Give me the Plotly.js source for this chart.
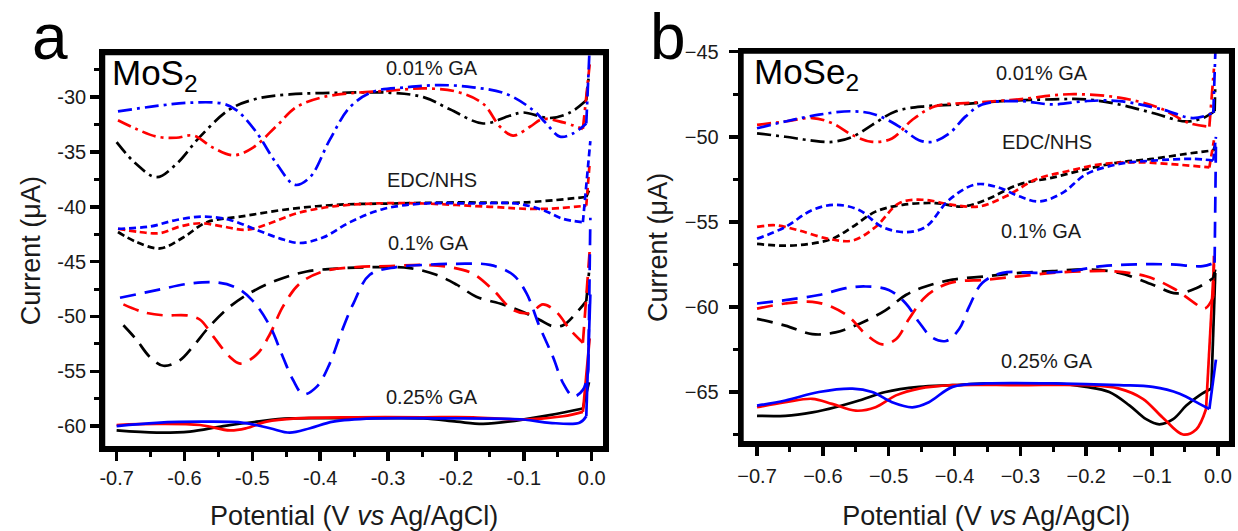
<!DOCTYPE html>
<html><head><meta charset="utf-8">
<script src="https://cdn.plot.ly/plotly-3.0.1.min.js"></script>
<style>html,body{margin:0;padding:0;background:#fff}</style>
</head><body><div id="chart" style="width:1238px;height:531px"></div>
<script>
// ---------------- Panel a (MoS2) ----------------
// 0.01% GA (dash-dot)
const A001K_X = [-0.700,-0.671,-0.641,-0.612,-0.577,-0.533,-0.494,-0.445,-0.371,-0.297,-0.248,-0.209,-0.160,-0.121,-0.101,-0.062,-0.032,-0.008];
const A001K_Y = [-34.1,-36.1,-37.3,-36.1,-33.6,-31.1,-30.15,-29.75,-29.6,-29.6,-30.0,-31.1,-32.4,-31.7,-31.4,-31.9,-31.4,-30.3];
const A001R_X = [-0.698,-0.671,-0.641,-0.612,-0.587,-0.558,-0.528,-0.499,-0.464,-0.435,-0.396,-0.347,-0.297,-0.248,-0.199,-0.160,-0.135,-0.116,-0.091,-0.072,-0.042,-0.013];
const A001R_Y = [-32.1,-32.9,-33.6,-33.7,-33.5,-34.6,-35.3,-34.6,-32.6,-30.9,-30.0,-29.6,-29.4,-29.2,-29.5,-30.6,-32.7,-33.5,-32.7,-32.0,-32.3,-32.9];
const A001B_X = [-0.698,-0.641,-0.592,-0.543,-0.523,-0.494,-0.464,-0.437,-0.415,-0.386,-0.356,-0.322,-0.273,-0.224,-0.175,-0.126,-0.086,-0.067,-0.047,-0.027,-0.008];
const A001B_Y = [-31.3,-30.8,-30.5,-30.6,-31.2,-33.2,-36.1,-38.0,-37.3,-33.9,-30.9,-29.5,-29.1,-28.9,-29.1,-29.7,-31.2,-32.4,-33.6,-33.3,-32.4];
// EDC/NHS (short dash)
const AEK_X = [-0.698,-0.671,-0.636,-0.602,-0.567,-0.518,-0.445,-0.371,-0.297,-0.199,-0.101,-0.008];
const AEK_Y = [-42.3,-43.2,-43.8,-42.8,-41.4,-40.9,-40.2,-39.8,-39.7,-39.6,-39.6,-39.1];
const AER_X = [-0.698,-0.666,-0.636,-0.607,-0.577,-0.543,-0.509,-0.474,-0.435,-0.386,-0.322,-0.248,-0.150,-0.077,-0.008];
const AER_Y = [-42.0,-42.3,-42.4,-41.8,-41.5,-41.8,-42.1,-41.5,-40.6,-40.0,-39.7,-39.7,-40.0,-40.2,-39.9];
const AEB_X = [-0.698,-0.651,-0.612,-0.572,-0.533,-0.494,-0.459,-0.430,-0.396,-0.356,-0.307,-0.248,-0.175,-0.111,-0.072,-0.042,-0.013];
const AEB_Y = [-42.0,-41.8,-41.2,-40.9,-41.2,-42.1,-42.9,-43.3,-42.8,-41.4,-40.2,-39.7,-39.7,-39.7,-40.3,-41.1,-41.4];
// 0.1% GA (long dash)
const A1K_X = [-0.690,-0.671,-0.651,-0.631,-0.607,-0.587,-0.563,-0.533,-0.499,-0.464,-0.420,-0.366,-0.317,-0.268,-0.229,-0.199,-0.170,-0.131,-0.101,-0.077,-0.057,-0.042,-0.023,-0.008];
const A1K_Y = [-50.8,-52.1,-53.7,-54.5,-54.0,-52.7,-50.9,-49.1,-47.7,-46.7,-45.9,-45.6,-45.5,-45.6,-46.2,-47.1,-48.2,-48.9,-49.6,-50.3,-50.9,-50.8,-49.7,-48.6];
const A1R_X = [-0.690,-0.661,-0.631,-0.597,-0.577,-0.558,-0.533,-0.518,-0.494,-0.474,-0.455,-0.430,-0.396,-0.347,-0.297,-0.248,-0.209,-0.175,-0.145,-0.116,-0.091,-0.072,-0.052,-0.032,-0.013];
const A1R_Y = [-48.9,-49.6,-49.9,-49.9,-50.3,-51.8,-53.7,-54.3,-53.5,-51.6,-49.1,-47.0,-45.9,-45.5,-45.4,-45.3,-45.5,-46.1,-47.6,-49.4,-49.7,-48.9,-49.6,-51.2,-52.4];
const A1B_X = [-0.695,-0.641,-0.592,-0.553,-0.523,-0.499,-0.474,-0.455,-0.440,-0.425,-0.405,-0.386,-0.371,-0.351,-0.327,-0.288,-0.248,-0.199,-0.150,-0.116,-0.096,-0.077,-0.057,-0.042,-0.027,-0.013,-0.005];
const A1B_Y = [-48.3,-47.6,-47.0,-46.9,-47.4,-48.6,-50.9,-53.7,-55.8,-57.1,-56.4,-54.3,-51.8,-48.8,-46.2,-45.5,-45.3,-45.2,-45.3,-46.2,-47.9,-50.9,-53.7,-56.1,-57.3,-56.7,-54.9];
// 0.25% GA (solid)
const A25K_X = [-0.700,-0.641,-0.592,-0.543,-0.494,-0.445,-0.347,-0.248,-0.199,-0.160,-0.111,-0.062,-0.013];
const A25K_Y = [-60.4,-60.6,-60.5,-60.0,-59.6,-59.3,-59.3,-59.3,-59.6,-59.8,-59.5,-59.0,-58.4];
const A25R_X = [-0.700,-0.641,-0.577,-0.533,-0.509,-0.479,-0.435,-0.347,-0.248,-0.175,-0.101,-0.042,-0.013];
const A25R_Y = [-59.9,-59.8,-59.9,-60.4,-60.2,-59.6,-59.3,-59.2,-59.2,-59.2,-59.4,-59.1,-58.7];
const A25B_X = [-0.700,-0.641,-0.567,-0.513,-0.474,-0.445,-0.415,-0.381,-0.322,-0.224,-0.101,-0.062,-0.018,-0.008];
const A25B_Y = [-60.0,-59.7,-59.6,-59.7,-60.2,-60.6,-60.2,-59.6,-59.3,-59.3,-59.4,-59.7,-59.7,-59.1];
// vertical excursions near 0 V (black, red, blue)
const A_SPIKE_X = [-0.004,-0.003,-0.002];
const A001_SPIKE_Y = [-27.9,-27.0,-24.0];
const AE_SPIKE_Y = [-38.5,-36.0,-34.0];
const A1_SPIKE_Y = [-46.0,-44.0,-41.0];
const A25_SPIKE_Y = [-56.0,-52.0,-48.0];

// ---------------- Panel b (MoSe2) ----------------
const B001K_X = [-0.700,-0.657,-0.621,-0.586,-0.555,-0.525,-0.489,-0.444,-0.393,-0.327,-0.251,-0.200,-0.150,-0.099,-0.048,-0.023,-0.005];
const B001K_Y = [-49.8,-50.0,-50.2,-50.3,-50.0,-49.3,-48.5,-48.2,-48.1,-47.9,-47.8,-47.8,-48.1,-48.6,-49.1,-48.9,-48.5];
const B001R_X = [-0.700,-0.657,-0.616,-0.586,-0.555,-0.525,-0.495,-0.464,-0.429,-0.373,-0.302,-0.226,-0.150,-0.089,-0.043,-0.013];
const B001R_Y = [-49.3,-49.1,-48.9,-49.2,-49.9,-50.3,-50.1,-49.0,-48.2,-48.0,-47.8,-47.5,-47.7,-48.3,-49.2,-49.4];
const B001B_X = [-0.700,-0.657,-0.606,-0.555,-0.520,-0.484,-0.454,-0.434,-0.408,-0.383,-0.358,-0.302,-0.251,-0.200,-0.150,-0.084,-0.038,-0.007];
const B001B_Y = [-49.5,-49.1,-48.7,-48.5,-48.7,-49.4,-50.2,-50.3,-49.8,-48.8,-48.1,-47.9,-48.1,-47.9,-47.9,-48.4,-48.9,-48.6];
const BEK_X = [-0.700,-0.657,-0.621,-0.586,-0.555,-0.520,-0.479,-0.429,-0.388,-0.352,-0.302,-0.251,-0.200,-0.150,-0.099,-0.048,-0.007];
const BEK_Y = [-56.3,-56.4,-56.3,-56.0,-55.3,-54.4,-54.0,-53.9,-54.1,-53.7,-52.8,-52.4,-51.9,-51.5,-51.3,-51.0,-50.8];
const BER_X = [-0.700,-0.672,-0.637,-0.591,-0.555,-0.520,-0.484,-0.449,-0.403,-0.363,-0.322,-0.276,-0.226,-0.175,-0.124,-0.073,-0.013];
const BER_Y = [-55.3,-55.2,-55.5,-56.0,-56.1,-55.3,-53.9,-53.7,-54.0,-54.1,-53.5,-52.5,-52.0,-51.6,-51.5,-51.6,-51.8];
const BEB_X = [-0.700,-0.657,-0.616,-0.581,-0.545,-0.510,-0.474,-0.444,-0.408,-0.368,-0.332,-0.302,-0.271,-0.236,-0.200,-0.150,-0.099,-0.038,-0.007];
const BEB_Y = [-56.0,-55.3,-54.3,-54.0,-54.3,-55.3,-55.6,-55.3,-53.7,-52.8,-53.0,-53.5,-53.8,-53.3,-52.2,-51.6,-51.4,-51.3,-51.4];
const B1K_X = [-0.700,-0.657,-0.616,-0.581,-0.545,-0.505,-0.474,-0.444,-0.403,-0.352,-0.302,-0.251,-0.200,-0.150,-0.099,-0.063,-0.033,-0.007];
const B1K_Y = [-60.7,-61.1,-61.6,-61.5,-61.0,-60.2,-59.3,-58.8,-58.4,-58.2,-58.0,-57.9,-57.8,-58.0,-58.7,-59.2,-58.9,-58.3];
const B1R_X = [-0.700,-0.657,-0.616,-0.586,-0.560,-0.535,-0.510,-0.489,-0.469,-0.444,-0.408,-0.352,-0.302,-0.251,-0.200,-0.160,-0.109,-0.068,-0.038,-0.020,-0.007];
const B1R_Y = [-60.1,-59.8,-59.7,-60.0,-60.6,-61.6,-62.2,-61.9,-60.7,-59.4,-58.6,-58.4,-58.2,-58.0,-57.9,-57.9,-58.2,-58.9,-59.7,-60.1,-59.4];
const B1B_X = [-0.700,-0.657,-0.606,-0.565,-0.535,-0.500,-0.474,-0.454,-0.434,-0.413,-0.393,-0.378,-0.358,-0.327,-0.276,-0.226,-0.175,-0.124,-0.073,-0.023,-0.005];
const B1B_Y = [-59.8,-59.6,-59.3,-58.9,-58.8,-59.0,-59.8,-60.9,-61.8,-62.0,-61.3,-60.0,-58.6,-58.0,-58.0,-57.9,-57.6,-57.5,-57.5,-57.6,-57.4];
const B25K_X = [-0.700,-0.657,-0.616,-0.581,-0.545,-0.505,-0.454,-0.403,-0.352,-0.302,-0.251,-0.200,-0.165,-0.134,-0.109,-0.089,-0.068,-0.048,-0.028,-0.010];
const B25K_Y = [-66.4,-66.4,-66.2,-65.9,-65.5,-65.0,-64.7,-64.6,-64.5,-64.5,-64.5,-64.7,-65.0,-65.8,-66.6,-66.9,-66.6,-65.8,-65.2,-64.8];
const B25R_X = [-0.700,-0.657,-0.616,-0.586,-0.550,-0.520,-0.489,-0.454,-0.403,-0.302,-0.200,-0.150,-0.114,-0.084,-0.053,-0.033,-0.018];
const B25R_Y = [-65.9,-65.6,-65.4,-65.7,-66.1,-65.9,-65.2,-64.8,-64.6,-64.6,-64.6,-64.8,-65.4,-66.5,-67.5,-67.2,-66.0];
const B25B_X = [-0.700,-0.657,-0.606,-0.555,-0.525,-0.495,-0.464,-0.439,-0.403,-0.352,-0.251,-0.150,-0.099,-0.058,-0.028,-0.013];
const B25B_Y = [-65.8,-65.5,-65.0,-64.8,-65.0,-65.6,-65.9,-65.6,-64.7,-64.5,-64.5,-64.6,-64.7,-65.1,-65.7,-66.0];
const B_SPIKE_X = [-0.004,-0.006,-0.003];
const B001_SPIKE_Y = [-47.0,-46.0,-44.0];
const BE_SPIKE_Y = [-50.5,-50.2,-50.0];
const B1_SPIKE_Y = [-57.8,-57.0,-50.5];
const B25_SPIKE_Y = [-58.0,-57.5,-63.1];

// tick labels / text
const A_XTICKS = [-0.7,-0.6,-0.5,-0.4,-0.3,-0.2,-0.1,0.0];
const A_XTEXT = ['-0.7','-0.6','-0.5','-0.4','-0.3','-0.2','-0.1','0.0'];
const A_YTICKS = [-60,-55,-50,-45,-40,-35,-30];
const A_YTEXT = ['-60','-55','-50','-45','-40','-35','-30'];
const GROUP_LABELS = ['0.01% GA','EDC/NHS','0.1% GA','0.25% GA'];
const A_LABEL_X = [-0.236,-0.235,-0.240,-0.235];
const A_LABEL_Y = [-27.3,-37.6,-43.3,-57.35];
const B_LABEL_X = [-0.267,-0.259,-0.268,-0.260];
const B_LABEL_Y = [-46.25,-50.3,-55.55,-63.2];

// ---------------- build ----------------
const FONT = '"Liberation Sans", Arial, sans-serif';
const COL = ['#000000','#ff0000','#0000ff'];
const DASH = ['14px,5px,3px,5px','7px,4px','16px,9px','solid'];
const LW = 2.7;
const traces = [];
function add(xs, ys, spikeY, spikeX, group, xa, ya){
  for (let i=0;i<3;i++){
    const x = xs[i], y = ys[i];
    traces.push({type:'scatter',mode:'lines',x:x,y:y,xaxis:xa,yaxis:ya,
      line:{color:COL[i],width:LW,dash:DASH[group],shape:'spline',smoothing:1},
      hoverinfo:'skip',showlegend:false});
    traces.push({type:'scatter',mode:'lines',x:[x[x.length-1],spikeX[i]],y:[y[y.length-1],spikeY[i]],
      xaxis:xa,yaxis:ya,line:{color:COL[i],width:LW,dash:DASH[group]},hoverinfo:'skip',showlegend:false});
  }
}
add([A25K_X,A25R_X,A25B_X],[A25K_Y,A25R_Y,A25B_Y],A25_SPIKE_Y,A_SPIKE_X,3,'x','y');
add([A1K_X,A1R_X,A1B_X],[A1K_Y,A1R_Y,A1B_Y],A1_SPIKE_Y,A_SPIKE_X,2,'x','y');
add([AEK_X,AER_X,AEB_X],[AEK_Y,AER_Y,AEB_Y],AE_SPIKE_Y,A_SPIKE_X,1,'x','y');
add([A001K_X,A001R_X,A001B_X],[A001K_Y,A001R_Y,A001B_Y],A001_SPIKE_Y,A_SPIKE_X,0,'x','y');
add([B25K_X,B25R_X,B25B_X],[B25K_Y,B25R_Y,B25B_Y],B25_SPIKE_Y,B_SPIKE_X,3,'x2','y2');
add([B1K_X,B1R_X,B1B_X],[B1K_Y,B1R_Y,B1B_Y],B1_SPIKE_Y,B_SPIKE_X,2,'x2','y2');
add([BEK_X,BER_X,BEB_X],[BEK_Y,BER_Y,BEB_Y],BE_SPIKE_Y,B_SPIKE_X,1,'x2','y2');
add([B001K_X,B001R_X,B001B_X],[B001K_Y,B001R_Y,B001B_Y],B001_SPIKE_Y,B_SPIKE_X,0,'x2','y2');

const tickFont = {family:FONT,size:20,color:'#1a1a1a'};
const titleFont = {family:FONT,size:27,color:'#1a1a1a'};
function axisBase(){
  return {showline:true,mirror:true,linewidth:4,linecolor:'#000',showgrid:false,zeroline:false,
    ticks:'outside',ticklen:9,tickwidth:3.5,tickcolor:'#000',tickfont:tickFont,automargin:false,fixedrange:true};
}
const minorX = {ticks:'outside',ticklen:5,tickwidth:3,tickcolor:'#000',tick0:-0.75,dtick:0.05};
const xa = Object.assign(axisBase(),{domain:[0.0834,0.4887],range:[-0.7197,0.0196],tickmode:'array',tickvals:A_XTICKS,ticktext:A_XTEXT,
  minor:minorX,
  title:{text:'Potential (V <i>vs</i> Ag/AgCl)',font:titleFont,standoff:20},anchor:'y'});
const ya = Object.assign(axisBase(),{domain:[0.1563,0.8996],range:[-62.0,-26.0],tickmode:'array',tickvals:A_YTICKS,ticktext:A_YTEXT,
  minor:{ticks:'outside',ticklen:5,tickwidth:3,tickcolor:'#000',tick0:-60,dtick:2.5},
  title:{text:'Current (μA)',font:titleFont,standoff:10},anchor:'x'});
const xb = Object.assign(axisBase(),{domain:[0.5991,0.9943],range:[-0.7233,0.0198],tick0:0,dtick:0.1,tickformat:'.1f',
  minor:minorX,ticklabelstandoff:3,
  title:{text:'Potential (V <i>vs</i> Ag/AgCl)',font:titleFont,standoff:22},anchor:'y2'});
const yb = Object.assign(axisBase(),{domain:[0.1657,0.9026],range:[-68.0,-45.0],tick0:-45,dtick:5,tickformat:'d',
  minor:{ticks:'outside',ticklen:5,tickwidth:3,tickcolor:'#000',tick0:-45,dtick:2.5},ticklabelstandoff:6,
  title:{text:'Current (μA)',font:titleFont,standoff:10},anchor:'x2'});

const ann = [];
const lblFont = {family:FONT,size:20,color:'#1a1a1a'};
for (let i=0;i<4;i++){
  ann.push({xref:'x',yref:'y',x:A_LABEL_X[i],y:A_LABEL_Y[i],text:GROUP_LABELS[i],showarrow:false,font:lblFont});
  ann.push({xref:'x2',yref:'y2',x:B_LABEL_X[i],y:B_LABEL_Y[i],text:GROUP_LABELS[i],showarrow:false,font:lblFont});
}
ann.push({xref:'paper',yref:'paper',x:0.0889,y:0.858,xanchor:'left',yanchor:'middle',text:'MoS<sub>2</sub>',showarrow:false,font:{family:FONT,size:35,color:'#000'}});
ann.push({xref:'paper',yref:'paper',x:0.6074,y:0.8615,xanchor:'left',yanchor:'middle',text:'MoSe<sub>2</sub>',showarrow:false,font:{family:FONT,size:35,color:'#000'}});
ann.push({xref:'paper',yref:'paper',x:50/1238,y:1,xanchor:'center',yanchor:'top',borderpad:0,text:'a',showarrow:false,font:{family:FONT,size:64,color:'#000'}});
ann.push({xref:'paper',yref:'paper',x:668/1238,y:1,xanchor:'center',yanchor:'top',borderpad:0,text:'b',showarrow:false,font:{family:FONT,size:64,color:'#000'}});

// explicit frame around each plot area
const frames = [['x','y'],['x2','y2']].map(function(p){
  return {type:'rect',xref:p[0]+' domain',yref:p[1]+' domain',x0:0,x1:1,y0:0,y1:1,line:{color:'#000',width:4},layer:'above'};
});

const layout = {width:1238,height:531,margin:{l:0,r:0,t:0,b:0},paper_bgcolor:'#fff',plot_bgcolor:'#fff',
  showlegend:false,xaxis:xa,yaxis:ya,xaxis2:xb,yaxis2:yb,annotations:ann,shapes:frames,font:{family:FONT}};
Plotly.newPlot('chart',traces,layout,{displayModeBar:false,staticPlot:true});
</script></body></html>
